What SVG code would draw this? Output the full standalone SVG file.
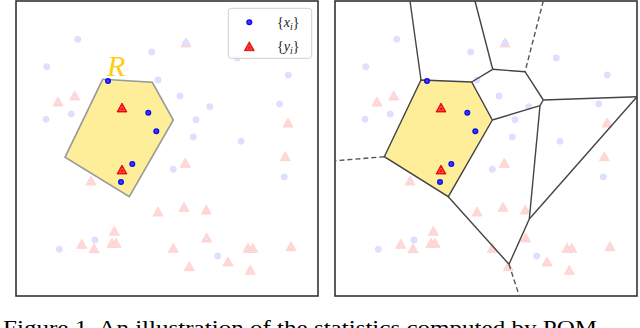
<svg xmlns="http://www.w3.org/2000/svg" xmlns:xlink="http://www.w3.org/1999/xlink" width="640" height="328" viewBox="0 0 640 328">
<style>
.frame{fill:#fff;stroke:#333;stroke-width:1.6}
.edge{stroke:#444;stroke-width:1.4;fill:none}
.dash{stroke:#555;stroke-width:1.4;fill:none;stroke-dasharray:5 3}
.cap{font-family:"Liberation Serif","Times New Roman",serif;font-size:22px;fill:#000}
.leg{font-family:"Liberation Serif","Times New Roman",serif;font-size:14px;fill:#222}
</style>
<defs>
<g id="lb"><circle r="3" fill="#e6e6ff" stroke="#d4d4ff" stroke-width="0.8"/><circle r="1.2" fill="none" stroke="#d0d0ff" stroke-width="0.6"/></g>
<g id="db"><circle r="3" fill="#0a0af0"/><circle r="1.1" fill="none" stroke="#8080ff" stroke-width="0.6"/></g>
<g id="pt"><polygon points="0,-5 5,4 -5,4" fill="#ffe0e0" stroke="#ffcccc" stroke-width="0.8"/><polygon points="0,-2 2.5,2.5 -2.5,2.5" fill="none" stroke="#ffc4c4" stroke-width="0.6"/></g>
<g id="rt"><polygon points="0,-5 5,4 -5,4" fill="#f01010" stroke="#e00000" stroke-width="0.8"/><polygon points="0,-2 2.5,2.5 -2.5,2.5" fill="none" stroke="#ff8080" stroke-width="0.6"/></g>
<g id="bg">
<use xlink:href="#lb" x="77.7" y="39.3"/>
<use xlink:href="#lb" x="46.7" y="66.7"/>
<use xlink:href="#lb" x="151.7" y="52"/>
<use xlink:href="#lb" x="158" y="80"/>
<use xlink:href="#pt" x="58" y="102"/>
<use xlink:href="#pt" x="74.7" y="96"/>
<use xlink:href="#lb" x="46" y="119.3"/>
<use xlink:href="#lb" x="71.3" y="114"/>
<use xlink:href="#pt" x="91" y="181"/>
<use xlink:href="#pt" x="158" y="212"/>
<use xlink:href="#pt" x="94" y="248.7"/>
<use xlink:href="#pt" x="114.3" y="231.3"/>
<use xlink:href="#lb" x="95" y="240"/>
<use xlink:href="#pt" x="81.7" y="244.3"/>
<use xlink:href="#pt" x="112" y="243.3"/>
<use xlink:href="#pt" x="116" y="243.3"/>
<use xlink:href="#lb" x="59.3" y="249.3"/>
<use xlink:href="#pt" x="186" y="43"/>
<use xlink:href="#lb" x="186" y="43"/>
<use xlink:href="#lb" x="237.3" y="58"/>
<use xlink:href="#lb" x="288.3" y="75"/>
<use xlink:href="#lb" x="180" y="96"/>
<use xlink:href="#lb" x="209.7" y="106.7"/>
<use xlink:href="#lb" x="196" y="119.7"/>
<use xlink:href="#lb" x="279.7" y="104"/>
<use xlink:href="#pt" x="288" y="123"/>
<use xlink:href="#lb" x="193.3" y="137"/>
<use xlink:href="#lb" x="241" y="141.3"/>
<use xlink:href="#pt" x="285.3" y="156.7"/>
<use xlink:href="#lb" x="173.3" y="169.3"/>
<use xlink:href="#pt" x="185.3" y="163.3"/>
<use xlink:href="#lb" x="284.3" y="177"/>
<use xlink:href="#pt" x="184" y="207.3"/>
<use xlink:href="#pt" x="206.3" y="210"/>
<use xlink:href="#pt" x="206.7" y="238"/>
<use xlink:href="#pt" x="173.3" y="248.3"/>
<use xlink:href="#pt" x="248" y="248.3"/>
<use xlink:href="#pt" x="252.7" y="248.3"/>
<use xlink:href="#pt" x="291" y="246.7"/>
<use xlink:href="#lb" x="217.7" y="256"/>
<use xlink:href="#pt" x="228" y="262"/>
<use xlink:href="#pt" x="189.3" y="266.7"/>
<use xlink:href="#pt" x="250.3" y="270.3"/>
</g>
<g id="fg">
<use xlink:href="#db" x="108" y="81"/>
<use xlink:href="#rt" x="122" y="108"/>
<use xlink:href="#db" x="148.3" y="112.7"/>
<use xlink:href="#db" x="156.3" y="131.3"/>
<use xlink:href="#rt" x="122" y="170"/>
<use xlink:href="#db" x="132.3" y="164"/>
<use xlink:href="#db" x="121" y="182"/>
</g>
</defs>

<g id="left-panel">
<rect class="frame" x="16" y="1" width="302" height="295"/>
<use xlink:href="#bg"/>
<polygon id="region-R" points="102.7,79.3 152.3,82.3 173.3,120 129.3,196.7 65,157.3" fill="#ffee99" stroke="#999" stroke-width="1.6"/>
<use xlink:href="#fg"/>
<text x="107" y="76" font-family="Liberation Serif,serif" font-style="italic" font-size="30" fill="#ffcc11">R</text>
<g id="legend">
<rect x="228.3" y="8.3" width="83.4" height="50" rx="3" fill="#fff" fill-opacity="0.85" stroke="#d0d0d0" stroke-width="1"/>
<use xlink:href="#db" x="249.3" y="22.3"/>
<use xlink:href="#rt" x="249.3" y="46.7"/>
<text class="leg" x="277" y="27">{<tspan font-style="italic">x</tspan><tspan font-style="italic" font-size="10" dy="3">i</tspan><tspan dy="-3">}</tspan></text>
<text class="leg" x="277" y="51">{<tspan font-style="italic">y</tspan><tspan font-style="italic" font-size="10" dy="3">i</tspan><tspan dy="-3">}</tspan></text>
</g>
</g>

<g id="right-panel">
<rect class="frame" x="335" y="1" width="302" height="295"/>
<use xlink:href="#bg" x="319"/>
<polygon id="cell" points="421,80 471.7,82 492.3,120 448.3,196.7 384.3,156.7" fill="#ffee99" stroke="#444" stroke-width="1.4"/>
<g id="connectors">
<line class="edge" x1="410" y1="1" x2="421" y2="80"/>
<line class="edge" x1="475" y1="1" x2="492.7" y2="69.3"/>
<line class="edge" x1="492.7" y1="69.3" x2="471.7" y2="82"/>
<line class="edge" x1="492.7" y1="69.3" x2="525" y2="71.7"/>
<line class="dash" x1="543.3" y1="1" x2="525" y2="71.7"/>
<line class="edge" x1="525" y1="71.7" x2="543.3" y2="100"/>
<line class="edge" x1="543.3" y1="100" x2="637" y2="96.7"/>
<line class="edge" x1="543.3" y1="100" x2="540" y2="105.7"/>
<line class="edge" x1="540" y1="105.7" x2="492.3" y2="120"/>
<line class="edge" x1="540" y1="105.7" x2="529.3" y2="219"/>
<line class="edge" x1="637" y1="96.7" x2="529.3" y2="219"/>
<line class="edge" x1="529.3" y1="219" x2="509" y2="264.3"/>
<line class="edge" x1="448.3" y1="196.7" x2="509" y2="264.3"/>
<line class="dash" x1="509" y1="264.3" x2="519" y2="295"/>
<line class="dash" x1="384.3" y1="156.7" x2="336" y2="160.7"/>
</g>
<use xlink:href="#fg" x="319"/>
</g>

<text class="cap" x="3" y="335" textLength="594" lengthAdjust="spacingAndGlyphs">Figure 1. An illustration of the statistics computed by POM</text>
</svg>
